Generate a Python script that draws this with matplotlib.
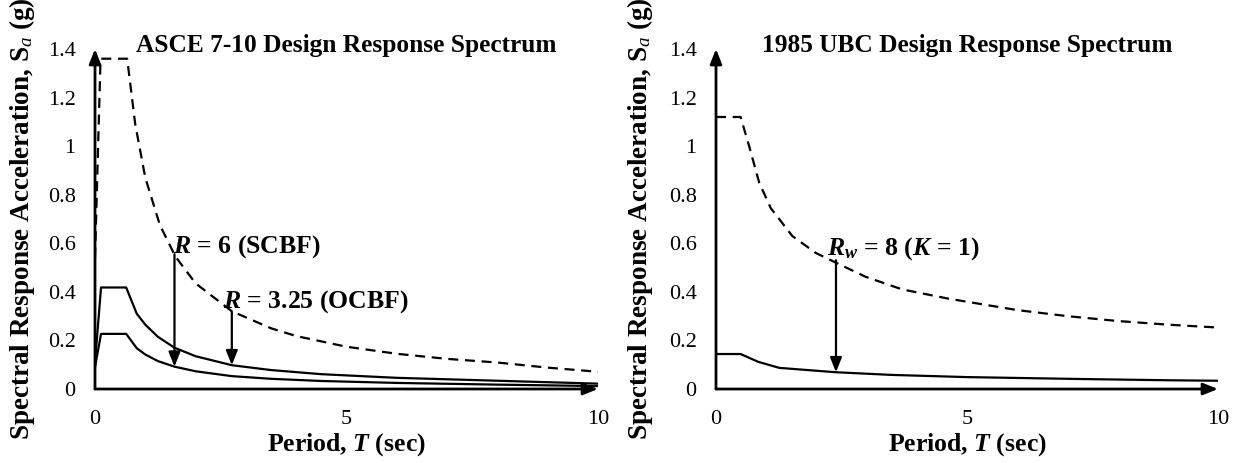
import matplotlib.pyplot as plt

plt.rcParams['font.family'] = ['Liberation Serif', 'DejaVu Serif']
plt.rcParams['mathtext.fontset'] = 'custom'
plt.rcParams['mathtext.rm'] = 'Liberation Serif'
plt.rcParams['mathtext.it'] = 'Liberation Serif:italic'
plt.rcParams['mathtext.bf'] = 'Liberation Serif:bold'
plt.rcParams['mathtext.bfit'] = 'Liberation Serif:italic:bold'

# ASCE 7-10 (left panel)
asce_T_el = [0, 0.11, 0.64, 0.8, 1.0, 1.29, 1.6, 2.0, 2.72, 3.5, 4.0, 5.0, 6.0, 7.0, 8.0, 9.0, 10.0]
asce_Sa_el = [0.54, 1.36, 1.36, 1.09, 0.87, 0.675, 0.545, 0.435, 0.32, 0.25, 0.218, 0.174, 0.145,
              0.124, 0.109, 0.088, 0.071]
asce_T = [0, 0.12, 0.62, 0.83, 1.0, 1.25, 1.58, 2.0, 2.72, 3.5, 4.5, 6.0, 8.0, 10.0]
asce_Sa_ocbf = [0.11, 0.418, 0.418, 0.31, 0.265, 0.215, 0.17, 0.135, 0.098, 0.078, 0.061, 0.046, 0.034, 0.022]
asce_Sa_scbf = [0.09, 0.227, 0.227, 0.168, 0.142, 0.115, 0.092, 0.073, 0.053, 0.042, 0.033, 0.025, 0.018, 0.012]

# 1985 UBC (right panel)
ubc_T_el = [0, 0.49, 0.66, 0.86, 1.09, 1.52, 1.99, 2.39, 2.98, 3.71, 4.63, 6.0, 7.0, 8.0, 9.0, 10.0]
ubc_Sa_el = [1.12, 1.12, 1.0, 0.85, 0.745, 0.63, 0.56, 0.52, 0.462, 0.41, 0.372, 0.325, 0.30, 0.28, 0.265, 0.253]
ubc_T = [0, 0.49, 0.84, 1.26, 2.39, 3.5, 5.0, 7.3, 9.0, 10.0]
ubc_Sa = [0.144, 0.144, 0.112, 0.087, 0.069, 0.058, 0.049, 0.041, 0.036, 0.034]

# reduction arrows: period, top, bottom
asce_arrows = [(1.58, 0.555, 0.092), (2.72, 0.32, 0.098)]
ubc_arrows = [(2.39, 0.53, 0.069)]
asce_notes = [(1.55, 0.56, r'$\mathbfit{R}$ = 6 (SCBF)'), (2.55, 0.335, r'$\mathbfit{R}$ = 3.25 (OCBF)')]
ubc_notes = [(2.22, 0.555, r'$\mathbfit{R}_{\mathbfit{w}}$ = 8 ($\mathbfit{K}$ = 1)')]

yticks = [0, 0.2, 0.4, 0.6, 0.8, 1.0, 1.2, 1.4]
ytick_labels = ['0', '0.2', '0.4', '0.6', '0.8', '1', '1.2', '1.4']
xticks = [0, 5, 10]

DASH = (0, (4.5, 3))
HEAD = '-|>,head_length=0.55,head_width=0.22'


def draw_panel(ax, title, dashed, solids, arrows, notes, ylab_x):
    ax.plot(dashed[0], dashed[1], color='k', lw=1.6, linestyle=DASH)
    for t, s in solids:
        ax.plot(t, s, color='k', lw=1.6)
    for t, top, bot in arrows:
        ax.annotate('', xy=(t, bot), xytext=(t, top),
                    arrowprops=dict(arrowstyle=HEAD, color='k', lw=1.6, mutation_scale=16,
                                    shrinkA=0, shrinkB=0))
    for t, s, txt in notes:
        ax.text(t, s, txt, fontsize=18.5, fontweight='bold', ha='left', va='baseline')

    # axes drawn as arrows
    for spine in ax.spines.values():
        spine.set_visible(False)
    ax.annotate('', xy=(10, 0), xytext=(0, 0), annotation_clip=False,
                arrowprops=dict(arrowstyle=HEAD, color='k', lw=2, mutation_scale=16, shrinkA=0, shrinkB=0))
    ax.annotate('', xy=(0, 1.4), xytext=(0, 0), annotation_clip=False,
                arrowprops=dict(arrowstyle=HEAD, color='k', lw=2, mutation_scale=16, shrinkA=0, shrinkB=0))

    ax.set_xlim(0, 10)
    ax.set_ylim(0, 1.4)
    ax.set_xticks(xticks)
    ax.set_yticks(yticks)
    ax.set_yticklabels(ytick_labels)
    ax.tick_params(axis='both', length=0, labelsize=16)
    ax.tick_params(axis='y', pad=14)
    ax.tick_params(axis='x', pad=15)
    ax.set_xlabel(r'Period, $\mathbfit{T}$ (sec)', fontsize=18.5, fontweight='bold')
    ax.set_ylabel(r'Spectral Response Acceleration, $\mathbf{S}_{a}$ (g)', fontsize=19.5, fontweight='bold')
    ax.xaxis.set_label_coords(0.5, -0.125)
    ax.yaxis.set_label_coords(ylab_x, 0.5)
    ax.text(0.5, 1.01, title, transform=ax.transAxes, ha='center', va='center',
            fontsize=18.3, fontweight='bold')


fig = plt.figure(figsize=(12.37, 4.63), dpi=100)
ax1 = fig.add_axes([95 / 1237, 74 / 463, 503 / 1237, 340 / 463])
ax2 = fig.add_axes([716 / 1237, 74 / 463, 502 / 1237, 340 / 463])

draw_panel(ax1, 'ASCE 7-10 Design Response Spectrum', (asce_T_el, asce_Sa_el),
           [(asce_T, asce_Sa_ocbf), (asce_T, asce_Sa_scbf)], asce_arrows, asce_notes, -0.115)
draw_panel(ax2, '1985 UBC Design Response Spectrum', (ubc_T_el, ubc_Sa_el),
           [(ubc_T, ubc_Sa)], ubc_arrows, ubc_notes, -0.122)

fig.savefig('out.png', dpi=100)
